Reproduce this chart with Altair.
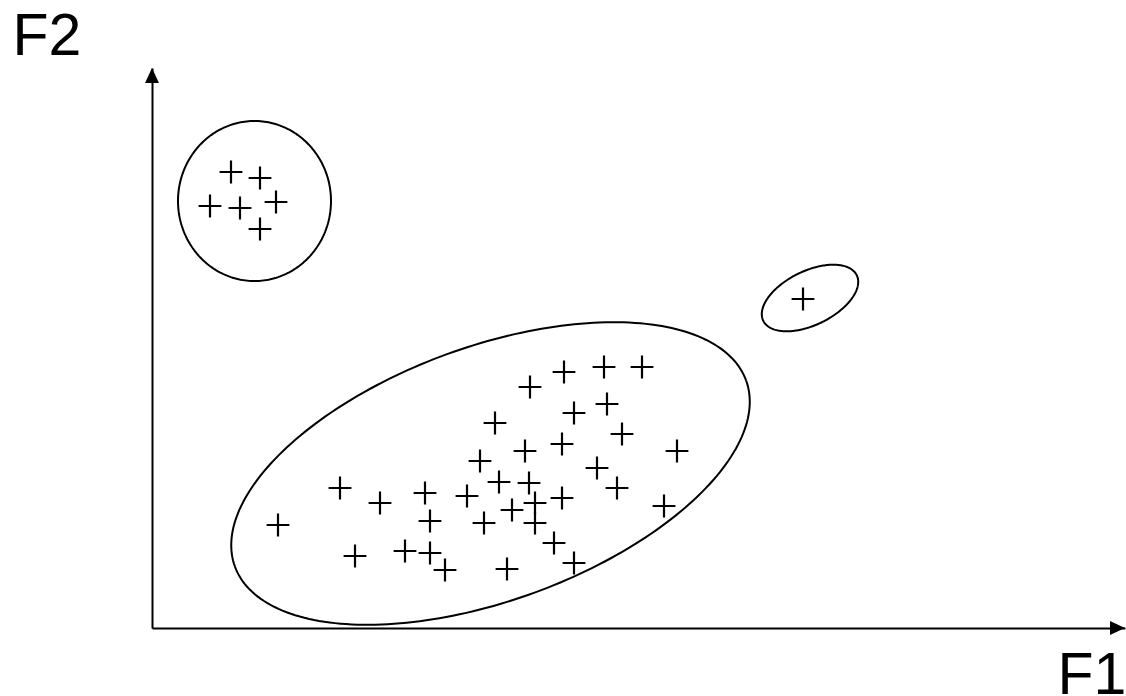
import numpy as np
import pandas as pd
import altair as alt

# Observations on the first two factorial axes
F1_upper = [7.9, 10.8, 5.8, 8.8, 12.4, 10.8]
F2_upper = [45.6, 45.0, 42.2, 42.0, 42.6, 39.9]

F1_single = [65.1]
F2_single = [32.9]

F1_main = [12.6, 18.8, 20.3, 22.8, 25.3, 27.3, 27.8, 27.8, 29.3, 31.5,
           32.8, 33.2, 34.3, 34.7, 35.5, 36.0, 37.3, 37.7, 37.8, 38.3,
           38.3, 40.2, 41.0, 41.0, 41.2, 42.2, 42.2, 44.5, 45.2, 45.5,
           46.5, 47.0, 49.0, 51.2, 52.5]
F2_main = [10.3, 14.0, 7.2, 12.5, 7.7, 13.5, 10.7, 7.5, 5.8, 13.2,
           16.7, 10.5, 20.5, 14.6, 5.9, 11.8, 17.7, 14.5, 24.1, 12.5,
           10.5, 8.5, 18.4, 13.0, 25.6, 21.5, 6.5, 16.0, 26.1, 22.4,
           14.0, 19.4, 26.1, 12.2, 17.7]

# Group envelopes: centre (F1, F2), semi-axes, rotation in degrees
envelope_names = ["upper", "single", "main"]
envelope_cx = [10.25, 65.8, 33.85]
envelope_cy = [42.7, 33.0, 15.45]
envelope_a = [7.65, 5.2, 27.2]
envelope_b = [8.0, 2.7, 12.7]
envelope_rot = [0.0, 26.0, 20.0]

F1_max = 97.3
F2_max = 56.0
FONT = "Liberation Sans"

points = pd.DataFrame({
    "F1": F1_upper + F1_single + F1_main,
    "F2": F2_upper + F2_single + F2_main,
})

# Outline of each envelope traced around its parametric angle
t = np.linspace(0, 2 * np.pi, 241)
rows = []
for name, cx, cy, a, b, rot in zip(envelope_names, envelope_cx, envelope_cy,
                                   envelope_a, envelope_b, envelope_rot):
    th = np.deg2rad(rot)
    ex = cx + a * np.cos(t) * np.cos(th) - b * np.sin(t) * np.sin(th)
    ey = cy + a * np.cos(t) * np.sin(th) + b * np.sin(t) * np.cos(th)
    for i, (u, v) in enumerate(zip(ex, ey)):
        rows.append({"group": name, "i": i, "F1": u, "F2": v})
outlines = pd.DataFrame(rows)

x_scale = alt.Scale(domain=[0, F1_max], nice=False, zero=False)
y_scale = alt.Scale(domain=[0, F2_max], nice=False, zero=False)

x_axis = alt.Axis(
    title="F1", ticks=False, labels=False, grid=False,
    domainColor="black", domainWidth=2,
    titleFont=FONT, titleFontSize=59, titleFontWeight="normal", titleColor="black",
    titleAngle=0, titleAlign="left", titleBaseline="alphabetic",
    titleX=905, titleY=65,
)
y_axis = alt.Axis(
    title="F2", ticks=False, labels=False, grid=False,
    domainColor="black", domainWidth=2,
    titleFont=FONT, titleFontSize=59, titleFontWeight="normal", titleColor="black",
    titleAngle=0, titleAlign="left", titleBaseline="alphabetic",
    titleX=-140, titleY=-14,
)

X = alt.X("F1:Q", scale=x_scale, axis=x_axis)
Y = alt.Y("F2:Q", scale=y_scale, axis=y_axis)

plus = alt.Chart(points).mark_point(
    shape="M-1,0L1,0M0,-1L0,1", filled=False, stroke="black",
    strokeWidth=2.2, size=520, opacity=1, strokeCap="butt",
).encode(x=X, y=Y)

rings = alt.Chart(outlines).mark_line(
    stroke="black", strokeWidth=2,
).encode(x=X, y=Y, detail="group:N", order="i:Q")

up_tip = alt.Chart(pd.DataFrame({"F1": [0.0], "F2": [F2_max]})).mark_point(
    shape="M0,0L-0.93,2L0.93,2Z", filled=True, fill="black", stroke=None,
    size=225, opacity=1,
).encode(x=X, y=Y)

right_tip = alt.Chart(pd.DataFrame({"F1": [F1_max], "F2": [0.0]})).mark_point(
    shape="M0,0L-2,-0.93L-2,0.93Z", filled=True, fill="black", stroke=None,
    size=225, opacity=1,
).encode(x=X, y=Y)

chart = alt.layer(rings, plus, up_tip, right_tip).properties(
    width=973,
    height=560,
    autosize=alt.AutoSizeParams(type="none"),
    padding={"left": 152, "top": 68, "right": 1, "bottom": 68},
    background="white",
).configure_view(stroke=None)

chart.save("out.html", embed_options={"renderer": "svg", "actions": False})
